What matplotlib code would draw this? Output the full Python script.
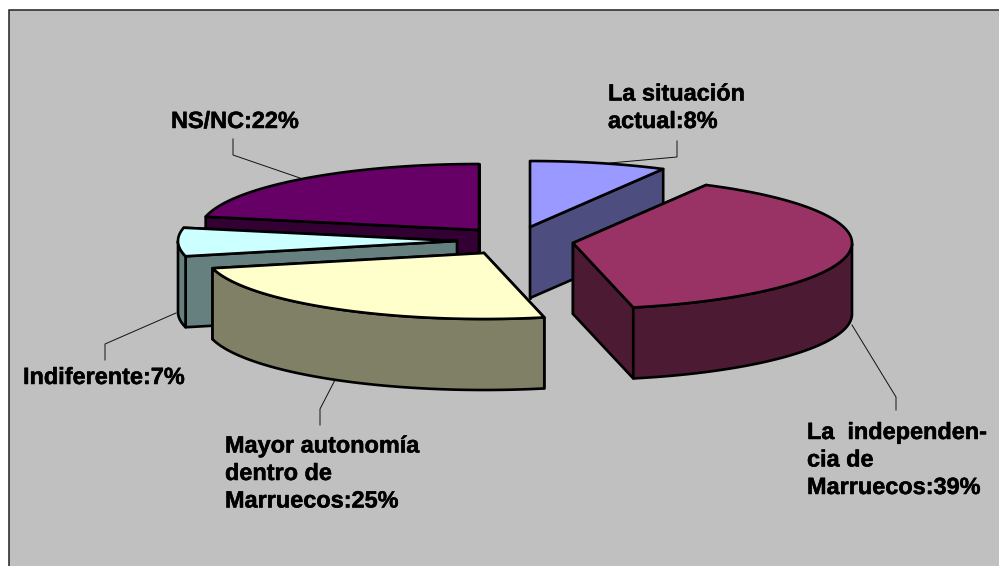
import numpy as np
import matplotlib
matplotlib.use("Agg")
import matplotlib.pyplot as plt
import matplotlib.patheffects as pe
from matplotlib.patches import Polygon, Rectangle

categories = ["La situación actual", "La independencia de Marruecos",
              "Mayor autonomía dentro de Marruecos", "Indiferente", "NS/NC"]
values = [8, 39, 25, 7, 22]
label_texts = ["La situación\nactual:8%", "La  independen-\ncia de\nMarruecos:39%",
               "Mayor autonomía\ndentro de\nMarruecos:25%", "Indiferente:7%", "NS/NC:22%"]

# layout (pixels)
apex = [(530, 227), (573, 243), (484, 253), (457, 241), (479, 230)]
top_colors = ["#9999FF", "#993366", "#FFFFCC", "#CCFFFF", "#660066"]
side_colors = ["#4D4D80", "#4D1A33", "#808066", "#668080", "#330033"]
paint_order = [0, 4, 1, 3, 2]
RX, RY, DEPTH = 279, 66, 71
label_pos = [(608, 128), (807, 494), (225, 507.5), (23, 384), (171, 128)]
leaders = [[(677, 141), (677, 157), (610, 163)],
           [(896, 410), (896, 397), (852, 325)],
           [(320, 425), (320, 409), (335, 380)],
           [(105, 360), (105, 344), (176, 313)],
           [(233, 139), (233, 155), (300, 178)]]

plt.rcParams["font.family"] = ["Liberation Sans", "DejaVu Sans"]
fig = plt.figure(figsize=(9.99, 5.66), dpi=100, facecolor="white")
ax = fig.add_axes([0, 0, 1, 1])
ax.set_xlim(0, 999)
ax.set_ylim(566, 0)
ax.axis("off")

ax.add_patch(Rectangle((8.7, 10), 1000, 570, facecolor="#C0C0C0",
                       edgecolor="#222222", lw=1.1, zorder=0))

for pts in leaders:
    xs, ys = zip(*pts)
    ax.plot(xs, ys, color="#111111", lw=0.7, zorder=1)

total = sum(values)
angles = 90 - np.cumsum([0] + values) * 360.0 / total
LW = 1.9


def rim(c, t):
    t = np.radians(t)
    return np.column_stack([c[0] + RX * np.cos(t), c[1] - RY * np.sin(t)])


def face(pts, color, z):
    ax.add_patch(Polygon(pts, closed=True, facecolor=color, edgecolor="black",
                         lw=LW, joinstyle="round", zorder=z))


z = 2
for i in paint_order:
    c = np.array(apex[i], float)
    a0, a1 = angles[i], angles[i + 1]
    shift = np.array([0, DEPTH])
    ts = np.linspace(a0, a1, 160)
    arc = rim(c, ts)
    # cut faces, back one first
    ends = sorted((rim(c, np.array([a]))[0] for a in (a0, a1)), key=lambda e: e[1])
    for e in ends:
        face([c, e, e + shift, c + shift], side_colors[i], z)
    # outer wall: visible only on the front half of the ellipse
    vis = arc[np.sin(np.radians(ts)) <= 0]
    if len(vis) > 1:
        face(np.vstack([vis, (vis + shift)[::-1]]), side_colors[i], z)
    # top
    face(np.vstack([c, arc]), top_colors[i], z)
    z += 1

for txt, (x, y) in zip(label_texts, label_pos):
    ax.text(x, y, txt, fontsize=16.9, fontweight="bold", color="black",
            ha="left", va="baseline", linespacing=1.25, zorder=20,
            path_effects=[pe.withStroke(linewidth=0.35, foreground="black")])

fig.savefig("out.png", dpi=100, facecolor="white")
